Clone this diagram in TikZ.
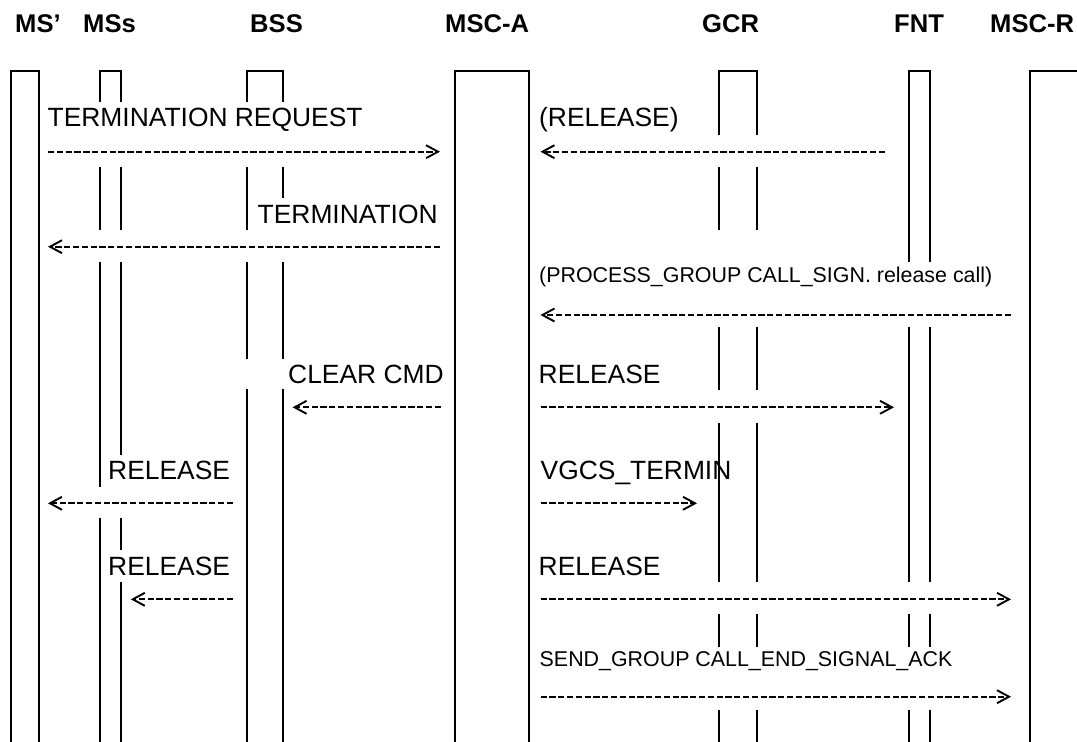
\documentclass[tikz,border=0pt]{standalone}
\usepackage{fontspec}
\setmainfont{Liberation Sans}
\usetikzlibrary{arrows.meta}
\tikzset{
  life/.style={line width=2.1pt, line join=miter},
  hdr/.style={anchor=base west, inner sep=0pt, font=\fontsize{25.6}{30}\selectfont\bfseries},
  lbl/.style={anchor=base west, inner sep=0pt, font=\fontsize{26.4}{30}\selectfont},
  smalllbl/.style={anchor=base west, inner sep=0pt, font=\fontsize{21.4}{26}\selectfont},
  msg/.style={line width=2.1pt, dash pattern=on 6.3pt off 2.5pt,
    -{Straight Barb[length=12pt,width=13pt,line width=1.9pt]}}
}
\begin{document}
\begin{tikzpicture}[x=1pt,y=-1pt]
\useasboundingbox (0,0) rectangle (1077,742);
% headers
\node[hdr] (hMSp) at (15,32) {MS’};
\node[hdr] (hMSs) at (83,32) {MSs};
\node[hdr] (hBSS) at (250,32) {BSS};
\node[hdr] (hMSCA) at (445,32) {MSC-A};
\node[hdr] (hGCR) at (702,32) {GCR};
\node[hdr] (hFNT) at (894,32) {FNT};
\node[hdr] (hMSCR) at (990,32) {MSC-R};
% lifelines
% MS'
\draw[life] (11,742) -- (11,71) -- (39,71) -- (39,742);
% MSs
\draw[life] (100,102) -- (100,71) -- (121,71) -- (121,102);
\draw[life] (100,166.7) -- (100,230) (121,166.7) -- (121,230);
\draw[life] (100,262.3) -- (100,486.7) (121,262.3) -- (121,455);
\draw[life] (100,518.3) -- (100,742) (121,518.3) -- (121,550) (121,581.7) -- (121,742);
% BSS
\draw[life] (247,102) -- (247,71) -- (283,71) -- (283,102);
\draw[life] (247,166.7) -- (247,230) (283,166.7) -- (283,198.3);
\draw[life] (247,262.3) -- (247,359.3) (283,262.3) -- (283,359.3);
\draw[life] (247,389.3) -- (247,742) (283,389.3) -- (283,742);
% MSC-A
\draw[life] (455,742) -- (455,71) -- (529,71) -- (529,742);
% GCR
\draw[life] (719,135) -- (719,71) -- (757,71) -- (757,135);
\foreach \a/\b in {166.7/230, 326.7/390, 422.7/581.7, 614/646.7, 710/742}
  \draw[life] (719,\a) -- (719,\b) (757,\a) -- (757,\b);
% FNT
\draw[life] (909,262.3) -- (909,71) -- (930,71) -- (930,262.3);
\foreach \a/\b in {326.7/581.7, 614/646.7, 710/742}
  \draw[life] (909,\a) -- (909,\b) (930,\a) -- (930,\b);
% MSC-R
\draw[life] (1030,742) -- (1030,71) -- (1078,71);
% labels
\node[lbl] (tTR) at (47.5,126.7) {TERMINATION REQUEST};
\node[lbl] (tRel1) at (539,126.7) {(RELEASE)};
\node[lbl] (tTerm) at (257.5,223.3) {TERMINATION};
\node[smalllbl] (tProc) at (539,282.7) {(PROCESS\_GROUP CALL\_SIGN. release call)};
\node[lbl] (tClear) at (288,383) {CLEAR CMD};
\node[lbl] (tRel2) at (538.5,383) {RELEASE};
\node[lbl] (tRel3) at (108,479) {RELEASE};
\node[lbl] (tVgcs) at (540.5,479) {VGCS\_TERMIN};
\node[lbl] (tRel4) at (108,575) {RELEASE};
\node[lbl] (tRel5) at (538.5,575) {RELEASE};
\node[smalllbl] (tSend) at (539.5,666) {SEND\_GROUP CALL\_END\_SIGNAL\_ACK};
% arrow end points
\coordinate (a1s) at (48,151.7);   \coordinate (a1e) at (440,151.7);
\coordinate (b1s) at (885,151.7);  \coordinate (b1e) at (540.5,151.7);
\coordinate (a2s) at (440,246.7);  \coordinate (a2e) at (48,246.7);
\coordinate (b3s) at (1011,315);   \coordinate (b3e) at (540.5,315);
\coordinate (a4s) at (441,407.3);  \coordinate (a4e) at (292.6,407.3);
\coordinate (b4s) at (540.5,407.3);\coordinate (b4e) at (894,407.3);
\coordinate (a5s) at (233,503.3);  \coordinate (a5e) at (48,503.3);
\coordinate (b5s) at (540.5,503.3);\coordinate (b5e) at (697,503.3);
\coordinate (a6s) at (233,599.3);  \coordinate (a6e) at (130.8,599.3);
\coordinate (b6s) at (540.5,599.3);\coordinate (b6e) at (1011,599.3);
\coordinate (b7s) at (540.5,696.7);\coordinate (b7e) at (1011,696.7);
\foreach \p in {a1,b1,a2,b3,a4,b4,a5,b5,a6,b6,b7}
  \draw[msg] (\p s) -- (\p e);
\end{tikzpicture}
\end{document}
